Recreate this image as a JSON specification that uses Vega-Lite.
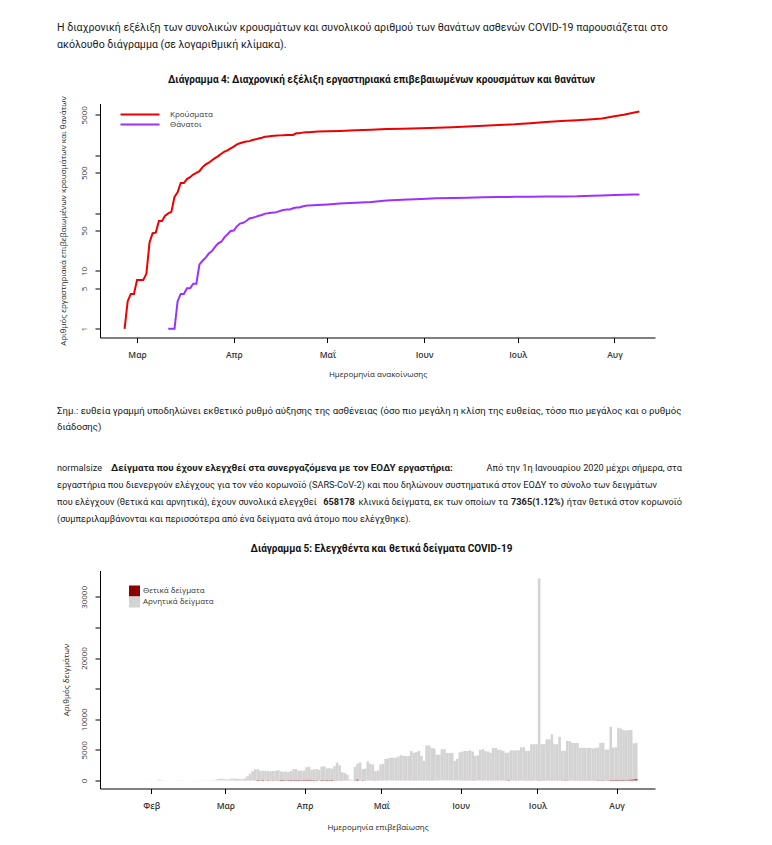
{
 "$schema": "https://vega.github.io/schema/vega-lite/v6.json",
 "background": "white",
 "padding": {"left": 57, "top": 19.5, "right": 5, "bottom": 0},
 "spacing": 0,
 "bounds": "flush",
 "resolve": {"scale": {"color": "independent"}, "legend": {"color": "independent"}},
 "config": {
  "view": {"stroke": null},
  "font": "Roboto",
  "axis": {"grid": false, "domainColor": "#000", "tickColor": "#000", "tickSize": 5, "labelColor": "#333", "titleColor": "#222", "labelFont": "Open Sans", "titleFont": "Open Sans", "titleFontWeight": "normal", "labelFontSize": 8, "titleFontSize": 8},
  "legend": {"labelFont": "Open Sans", "labelFontSize": 8, "labelColor": "#333"},
  "title": {"font": "Roboto", "fontSize": 10, "fontWeight": "bold", "color": "#111"},
  "text": {"font": "Roboto", "fontSize": 10, "color": "#1a1a1a"}
 },
 "vconcat": [
  {
   "width": 555, "height": 83.2,
   "data": {"values": [
    {"ln": 1, "t": "Η διαχρονική εξέλιξη των συνολικών κρουσμάτων και συνολικού αριθμού των θανάτων ασθενών COVID-19 παρουσιάζεται στο"},
    {"ln": 2, "t": "ακόλουθο διάγραμμα (σε λογαριθμική κλίμακα)."}
   ]},
   "mark": {"type": "text", "align": "left", "baseline": "middle", "fontSize": 10.6},
   "encoding": {
    "x": {"datum": 0, "type": "quantitative", "scale": {"domain": [6.88, 95.68], "nice": false}, "axis": null},
    "y": {"field": "ln", "type": "quantitative", "scale": {"domain": [0.5, 5.394], "reverse": true, "nice": false}, "axis": null},
    "text": {"field": "t"}
   }
  },
  {
   "width": 555, "height": 234,
   "title": {"text": "Διάγραμμα 4: Διαχρονική εξέλιξη εργαστηριακά επιβεβαιωμένων κρουσμάτων και θανάτων", "baseline": "middle", "offset": 6, "dx": 4},
   "data": {"values": [
    {"d": "2020-02-26", "c": 1}, {"d": "2020-02-27", "c": 3}, {"d": "2020-02-28", "c": 4}, {"d": "2020-02-29", "c": 4},
    {"d": "2020-03-01", "c": 7}, {"d": "2020-03-02", "c": 7}, {"d": "2020-03-03", "c": 7}, {"d": "2020-03-04", "c": 9},
    {"d": "2020-03-05", "c": 31}, {"d": "2020-03-06", "c": 45}, {"d": "2020-03-07", "c": 46}, {"d": "2020-03-08", "c": 73},
    {"d": "2020-03-09", "c": 73}, {"d": "2020-03-10", "c": 90}, {"d": "2020-03-11", "c": 99, "t": 1}, {"d": "2020-03-12", "c": 105, "t": 1},
    {"d": "2020-03-13", "c": 190, "t": 1}, {"d": "2020-03-14", "c": 228, "t": 3}, {"d": "2020-03-15", "c": 331, "t": 4}, {"d": "2020-03-16", "c": 331, "t": 4},
    {"d": "2020-03-17", "c": 387, "t": 5}, {"d": "2020-03-18", "c": 418, "t": 5}, {"d": "2020-03-19", "c": 464, "t": 6}, {"d": "2020-03-20", "c": 495, "t": 6},
    {"d": "2020-03-21", "c": 530, "t": 13}, {"d": "2020-03-22", "c": 624, "t": 15}, {"d": "2020-03-23", "c": 695, "t": 17}, {"d": "2020-03-24", "c": 743, "t": 20},
    {"d": "2020-03-25", "c": 821, "t": 22}, {"d": "2020-03-26", "c": 892, "t": 26}, {"d": "2020-03-27", "c": 966, "t": 30}, {"d": "2020-03-28", "c": 1061, "t": 32},
    {"d": "2020-03-29", "c": 1156, "t": 38}, {"d": "2020-03-30", "c": 1212, "t": 43}, {"d": "2020-03-31", "c": 1314, "t": 49}, {"d": "2020-04-01", "c": 1415, "t": 50},
    {"d": "2020-04-02", "c": 1544, "t": 59}, {"d": "2020-04-03", "c": 1613, "t": 66}, {"d": "2020-04-04", "c": 1673, "t": 68}, {"d": "2020-04-05", "c": 1735, "t": 73},
    {"d": "2020-04-06", "c": 1755, "t": 81}, {"d": "2020-04-07", "c": 1832, "t": 83}, {"d": "2020-04-08", "c": 1884, "t": 86}, {"d": "2020-04-09", "c": 1955, "t": 90},
    {"d": "2020-04-10", "c": 2011, "t": 93}, {"d": "2020-04-11", "c": 2081, "t": 98}, {"d": "2020-04-12", "c": 2114, "t": 99}, {"d": "2020-04-13", "c": 2145, "t": 101},
    {"d": "2020-04-14", "c": 2170, "t": 102}, {"d": "2020-04-15", "c": 2192, "t": 105}, {"d": "2020-04-16", "c": 2207, "t": 110}, {"d": "2020-04-17", "c": 2224, "t": 113},
    {"d": "2020-04-18", "c": 2235, "t": 116}, {"d": "2020-04-19", "c": 2235, "t": 116}, {"d": "2020-04-20", "c": 2245, "t": 121}, {"d": "2020-04-21", "c": 2401, "t": 125},
    {"d": "2020-04-22", "c": 2408, "t": 125}, {"d": "2020-04-23", "c": 2463, "t": 130}, {"d": "2020-04-24", "c": 2490, "t": 134}, {"d": "2020-04-25", "c": 2506, "t": 136},
    {"d": "2020-04-28", "c": 2566, "t": 138}, {"d": "2020-05-01", "c": 2591, "t": 141}, {"d": "2020-05-05", "c": 2632, "t": 146}, {"d": "2020-05-10", "c": 2710, "t": 151},
    {"d": "2020-05-15", "c": 2770, "t": 155}, {"d": "2020-05-20", "c": 2840, "t": 165}, {"d": "2020-05-25", "c": 2878, "t": 171}, {"d": "2020-05-31", "c": 2918, "t": 175},
    {"d": "2020-06-05", "c": 2980, "t": 180}, {"d": "2020-06-10", "c": 3060, "t": 183}, {"d": "2020-06-15", "c": 3130, "t": 185}, {"d": "2020-06-20", "c": 3230, "t": 188},
    {"d": "2020-06-25", "c": 3340, "t": 190}, {"d": "2020-06-30", "c": 3430, "t": 191}, {"d": "2020-07-05", "c": 3580, "t": 192}, {"d": "2020-07-10", "c": 3760, "t": 193},
    {"d": "2020-07-15", "c": 3920, "t": 194}, {"d": "2020-07-20", "c": 4030, "t": 195}, {"d": "2020-07-25", "c": 4200, "t": 199}, {"d": "2020-07-28", "c": 4340, "t": 202},
    {"d": "2020-08-01", "c": 4720, "t": 206}, {"d": "2020-08-04", "c": 5020, "t": 208}, {"d": "2020-08-07", "c": 5420, "t": 209}, {"d": "2020-08-09", "c": 5700, "t": 210}
   ]},
   "transform": [{"fold": ["c", "t"], "as": ["s", "v"]}],
   "mark": {"type": "line", "strokeWidth": 2},
   "encoding": {
    "x": {"field": "d", "type": "temporal", "title": "Ημερομηνία ανακοίνωσης",
     "scale": {"type": "utc", "domain": [{"year": 2020, "month": 2, "date": 18, "hours": 3, "utc": true}, {"year": 2020, "month": 8, "date": 14, "utc": true}]},
     "axis": {"values": [{"year": 2020, "month": 3, "date": 1, "utc": true}, {"year": 2020, "month": 4, "date": 1, "utc": true}, {"year": 2020, "month": 5, "date": 1, "utc": true}, {"year": 2020, "month": 6, "date": 1, "utc": true}, {"year": 2020, "month": 7, "date": 1, "utc": true}, {"year": 2020, "month": 8, "date": 1, "utc": true}],
      "labelExpr": "['Ιαν','Φεβ','Μαρ','Απρ','Μαΐ','Ιουν','Ιουλ','Αυγ','Σεπ'][utcmonth(datum.value)]", "labelFontWeight": 600, "labelFontSize": 8.5, "labelPadding": 8, "titlePadding": 11}},
    "y": {"field": "v", "type": "quantitative", "title": "Αριθμός εργαστηριακά επιβεβαιωμένων κρουσμάτων και θανάτων",
     "scale": {"type": "log", "domain": [0.707, 7850], "nice": false},
     "axis": {"values": [1, 5, 10, 50, 100, 500, 1000, 5000], "format": "d", "labelExpr": "datum.value == 100 || datum.value == 1000 ? '' : datum.label", "labelAngle": -90, "labelAlign": "center", "labelBaseline": "bottom", "labelPadding": 7, "labelOverlap": false, "titlePadding": 12.5}},
    "color": {"field": "s", "type": "nominal", "scale": {"domain": ["c", "t"], "range": ["#ee0000", "#9b30ff"]},
     "legend": {"title": null, "orient": "none", "legendX": 34, "legendY": 5, "symbolType": "M-3.9,0H3.9", "symbolSize": 100, "symbolStrokeWidth": 2, "rowPadding": 0, "labelOffset": 24, "padding": 0, "labelExpr": "datum.value == 'c' ? 'Κρούσματα' : 'Θάνατοι'"}}
   }
  },
  {
   "width": 555, "height": 110,
   "data": {"values": [
    {"ln": 1, "t": "Σημ.: ευθεία γραμμή υποδηλώνει εκθετικό ρυθμό αύξησης της ασθένειας (όσο πιο μεγάλη η κλίση της ευθείας, τόσο πιο μεγάλος και ο ρυθμός"},
    {"ln": 2, "t": "διάδοσης)"}
   ]},
   "mark": {"type": "text", "align": "left", "baseline": "middle", "fontSize": 9.65},
   "encoding": {
    "x": {"datum": 0, "type": "quantitative", "scale": {"domain": [6.88, 95.68], "nice": false}, "axis": null},
    "y": {"field": "ln", "type": "quantitative", "scale": {"domain": [-3.581, 3.294], "reverse": true, "nice": false}, "axis": null},
    "text": {"field": "t"}
   }
  },
  {
   "width": 555, "height": 122.6,
   "encoding": {
    "y": {"field": "ln", "type": "quantitative", "scale": {"domain": [-0.194, 7.018], "reverse": true, "nice": false}, "axis": null},
    "text": {"field": "t"}
   },
   "layer": [
    {
     "data": {"values": [
      {"ln": 1, "t": "normalsize"},
      {"ln": 2, "t": "εργαστήρια που διενεργούν ελέγχους για τον νέο κορωνοϊό (SARS-CoV-2) και που δηλώνουν συστηματικά στον ΕΟΔΥ το σύνολο των δειγμάτων"},
      {"ln": 3, "t": "που ελέγχουν (θετικά και αρνητικά), έχουν συνολικά ελεγχθεί"},
      {"ln": 4, "t": "(συμπεριλαμβάνονται και περισσότερα από ένα δείγματα ανά άτομο που ελέγχθηκε)."}
     ]},
     "mark": {"type": "text", "align": "left", "baseline": "middle", "fontSize": 9.2},
     "encoding": {"x": {"datum": 0, "type": "quantitative", "scale": {"domain": [6.88, 95.68], "nice": false}, "axis": null}}
    },
    {
     "data": {"values": [
      {"ln": 1, "t": "Από την 1η Ιανουαρίου 2020 μέχρι σήμερα, στα"},
      {"ln": 3, "t": "ήταν θετικά στον κορωνοϊό"}
     ]},
     "mark": {"type": "text", "align": "right", "baseline": "middle", "fontSize": 9.2},
     "encoding": {"x": {"datum": 100, "type": "quantitative"}}
    },
    {
     "data": {"values": [{"ln": 1, "t": "Δείγματα που έχουν ελεγχθεί στα συνεργαζόμενα με τον ΕΟΔΥ εργαστήρια:"}]},
     "mark": {"type": "text", "align": "left", "baseline": "middle", "fontWeight": "bold", "fontSize": 9.8},
     "encoding": {"x": {"datum": 8.64, "type": "quantitative"}}
    },
    {
     "data": {"values": [{"ln": 3, "t": "658178"}]},
     "mark": {"type": "text", "align": "left", "baseline": "middle", "fontWeight": "bold", "fontSize": 9.2},
     "encoding": {"x": {"datum": 42.59, "type": "quantitative"}}
    },
    {
     "data": {"values": [{"ln": 3, "t": "κλινικά δείγματα, εκ των οποίων τα"}]},
     "mark": {"type": "text", "align": "left", "baseline": "middle", "fontSize": 9.2},
     "encoding": {"x": {"datum": 48.22, "type": "quantitative"}}
    },
    {
     "data": {"values": [{"ln": 3, "t": "7365(1.12%)"}]},
     "mark": {"type": "text", "align": "left", "baseline": "middle", "fontWeight": "bold", "fontSize": 9.2},
     "encoding": {"x": {"datum": 72.65, "type": "quantitative"}}
    }
   ]
  },
  {
   "width": 555, "height": 218,
   "title": {"text": "Διάγραμμα 5: Ελεγχθέντα και θετικά δείγματα COVID-19", "baseline": "middle", "offset": 11.3, "dx": 4},
   "data": {"values": [
    {"d": "2020-01-27", "n": 5, "p": 0}, {"d": "2020-01-28", "n": 10, "p": 0}, {"d": "2020-01-29", "n": 8, "p": 0}, {"d": "2020-01-30", "n": 12, "p": 0}, {"d": "2020-01-31", "n": 15, "p": 0},
    {"d": "2020-02-01", "n": 10, "p": 0}, {"d": "2020-02-02", "n": 5, "p": 0}, {"d": "2020-02-03", "n": 120, "p": 0}, {"d": "2020-02-04", "n": 80, "p": 0}, {"d": "2020-02-05", "n": 20, "p": 0},
    {"d": "2020-02-06", "n": 15, "p": 0}, {"d": "2020-02-07", "n": 10, "p": 0}, {"d": "2020-02-08", "n": 5, "p": 0}, {"d": "2020-02-09", "n": 5, "p": 0}, {"d": "2020-02-10", "n": 20, "p": 0},
    {"d": "2020-02-11", "n": 25, "p": 0}, {"d": "2020-02-12", "n": 15, "p": 0}, {"d": "2020-02-13", "n": 20, "p": 0}, {"d": "2020-02-14", "n": 15, "p": 0}, {"d": "2020-02-15", "n": 5, "p": 0},
    {"d": "2020-02-16", "n": 5, "p": 0}, {"d": "2020-02-17", "n": 20, "p": 0}, {"d": "2020-02-18", "n": 25, "p": 0}, {"d": "2020-02-19", "n": 20, "p": 0}, {"d": "2020-02-20", "n": 25, "p": 0},
    {"d": "2020-02-21", "n": 30, "p": 0}, {"d": "2020-02-22", "n": 15, "p": 0}, {"d": "2020-02-23", "n": 10, "p": 0}, {"d": "2020-02-24", "n": 40, "p": 0}, {"d": "2020-02-25", "n": 60, "p": 0},
    {"d": "2020-02-26", "n": 150, "p": 1}, {"d": "2020-02-27", "n": 250, "p": 2}, {"d": "2020-02-28", "n": 280, "p": 1}, {"d": "2020-02-29", "n": 200, "p": 0},
    {"d": "2020-03-01", "n": 150, "p": 0}, {"d": "2020-03-02", "n": 250, "p": 0}, {"d": "2020-03-03", "n": 280, "p": 0}, {"d": "2020-03-04", "n": 300, "p": 2}, {"d": "2020-03-05", "n": 250, "p": 22},
    {"d": "2020-03-06", "n": 200, "p": 14}, {"d": "2020-03-07", "n": 250, "p": 1}, {"d": "2020-03-08", "n": 300, "p": 27}, {"d": "2020-03-09", "n": 700, "p": 0}, {"d": "2020-03-10", "n": 1100, "p": 16},
    {"d": "2020-03-11", "n": 1500, "p": 10}, {"d": "2020-03-12", "n": 1800, "p": 18}, {"d": "2020-03-13", "n": 1750, "p": 73}, {"d": "2020-03-14", "n": 1550, "p": 38}, {"d": "2020-03-15", "n": 1500, "p": 103},
    {"d": "2020-03-16", "n": 1550, "p": 21}, {"d": "2020-03-17", "n": 1500, "p": 56}, {"d": "2020-03-18", "n": 1450, "p": 31}, {"d": "2020-03-19", "n": 1500, "p": 46}, {"d": "2020-03-20", "n": 1550, "p": 31},
    {"d": "2020-03-21", "n": 1650, "p": 35}, {"d": "2020-03-22", "n": 1400, "p": 94}, {"d": "2020-03-23", "n": 1350, "p": 71}, {"d": "2020-03-24", "n": 1400, "p": 48}, {"d": "2020-03-25", "n": 1300, "p": 78},
    {"d": "2020-03-26", "n": 1450, "p": 71}, {"d": "2020-03-27", "n": 1800, "p": 74}, {"d": "2020-03-28", "n": 1750, "p": 95}, {"d": "2020-03-29", "n": 1500, "p": 95}, {"d": "2020-03-30", "n": 1550, "p": 56},
    {"d": "2020-03-31", "n": 1500, "p": 102}, {"d": "2020-04-01", "n": 2050, "p": 101}, {"d": "2020-04-02", "n": 2100, "p": 129}, {"d": "2020-04-03", "n": 1700, "p": 69}, {"d": "2020-04-04", "n": 1750, "p": 60},
    {"d": "2020-04-05", "n": 1800, "p": 62}, {"d": "2020-04-06", "n": 1700, "p": 20}, {"d": "2020-04-07", "n": 2200, "p": 77}, {"d": "2020-04-08", "n": 2250, "p": 52}, {"d": "2020-04-09", "n": 1900, "p": 71},
    {"d": "2020-04-10", "n": 1950, "p": 56}, {"d": "2020-04-11", "n": 1850, "p": 70}, {"d": "2020-04-12", "n": 2300, "p": 33}, {"d": "2020-04-13", "n": 2900, "p": 31}, {"d": "2020-04-14", "n": 2450, "p": 25},
    {"d": "2020-04-15", "n": 1300, "p": 22}, {"d": "2020-04-16", "n": 1200, "p": 15}, {"d": "2020-04-17", "n": 900, "p": 17}, {"d": "2020-04-18", "n": 150, "p": 11}, {"d": "2020-04-19", "n": 100, "p": 0},
    {"d": "2020-04-20", "n": 2200, "p": 10}, {"d": "2020-04-21", "n": 2600, "p": 156}, {"d": "2020-04-22", "n": 2950, "p": 7}, {"d": "2020-04-23", "n": 1800, "p": 55}, {"d": "2020-04-24", "n": 1900, "p": 27},
    {"d": "2020-04-25", "n": 3100, "p": 16}, {"d": "2020-04-26", "n": 2700, "p": 11}, {"d": "2020-04-27", "n": 2600, "p": 17}, {"d": "2020-04-28", "n": 1500, "p": 32}, {"d": "2020-04-29", "n": 1600, "p": 15},
    {"d": "2020-04-30", "n": 2600, "p": 15}, {"d": "2020-05-01", "n": 2700, "p": 10}, {"d": "2020-05-02", "n": 3500, "p": 9}, {"d": "2020-05-03", "n": 3600, "p": 9}, {"d": "2020-05-04", "n": 3700, "p": 2},
    {"d": "2020-05-05", "n": 3700, "p": 10}, {"d": "2020-05-06", "n": 3700, "p": 13}, {"d": "2020-05-07", "n": 3900, "p": 10}, {"d": "2020-05-08", "n": 4100, "p": 17}, {"d": "2020-05-09", "n": 4000, "p": 11},
    {"d": "2020-05-10", "n": 3950, "p": 14}, {"d": "2020-05-11", "n": 4000, "p": 6}, {"d": "2020-05-12", "n": 4800, "p": 16}, {"d": "2020-05-13", "n": 4500, "p": 16}, {"d": "2020-05-14", "n": 4600, "p": 16},
    {"d": "2020-05-15", "n": 4800, "p": 10}, {"d": "2020-05-16", "n": 4000, "p": 10}, {"d": "2020-05-17", "n": 3200, "p": 9}, {"d": "2020-05-18", "n": 5700, "p": 6}, {"d": "2020-05-19", "n": 5700, "p": 15},
    {"d": "2020-05-20", "n": 5300, "p": 21}, {"d": "2020-05-21", "n": 5200, "p": 13}, {"d": "2020-05-22", "n": 4200, "p": 3}, {"d": "2020-05-23", "n": 4200, "p": 8}, {"d": "2020-05-24", "n": 5100, "p": 3},
    {"d": "2020-05-25", "n": 5100, "p": 2}, {"d": "2020-05-26", "n": 4500, "p": 5}, {"d": "2020-05-27", "n": 4500, "p": 7}, {"d": "2020-05-28", "n": 4500, "p": 10}, {"d": "2020-05-29", "n": 3200, "p": 8},
    {"d": "2020-05-30", "n": 3500, "p": 1}, {"d": "2020-05-31", "n": 4600, "p": 12}, {"d": "2020-06-01", "n": 4700, "p": 20}, {"d": "2020-06-02", "n": 4800, "p": 15}, {"d": "2020-06-03", "n": 4800, "p": 15},
    {"d": "2020-06-04", "n": 4900, "p": 10}, {"d": "2020-06-05", "n": 4700, "p": 25}, {"d": "2020-06-06", "n": 4000, "p": 17}, {"d": "2020-06-07", "n": 4100, "p": 3}, {"d": "2020-06-08", "n": 5000, "p": 11},
    {"d": "2020-06-09", "n": 5100, "p": 20}, {"d": "2020-06-10", "n": 4800, "p": 6}, {"d": "2020-06-11", "n": 4700, "p": 24}, {"d": "2020-06-12", "n": 4500, "p": 15}, {"d": "2020-06-13", "n": 5300, "p": 17},
    {"d": "2020-06-14", "n": 5300, "p": 11}, {"d": "2020-06-15", "n": 5000, "p": 19}, {"d": "2020-06-16", "n": 5000, "p": 9}, {"d": "2020-06-17", "n": 4800, "p": 12}, {"d": "2020-06-18", "n": 4500, "p": 21},
    {"d": "2020-06-19", "n": 4500, "p": 55}, {"d": "2020-06-20", "n": 4900, "p": 10}, {"d": "2020-06-21", "n": 4900, "p": 14}, {"d": "2020-06-22", "n": 4900, "p": 15}, {"d": "2020-06-23", "n": 4900, "p": 20},
    {"d": "2020-06-24", "n": 5400, "p": 10}, {"d": "2020-06-25", "n": 5400, "p": 13}, {"d": "2020-06-26", "n": 4800, "p": 21}, {"d": "2020-06-27", "n": 4800, "p": 21}, {"d": "2020-06-28", "n": 5900, "p": 33},
    {"d": "2020-06-29", "n": 5900, "p": 14}, {"d": "2020-06-30", "n": 5900, "p": 19}, {"d": "2020-07-01", "n": 33000, "p": 34}, {"d": "2020-07-02", "n": 5900, "p": 28}, {"d": "2020-07-03", "n": 5900, "p": 24},
    {"d": "2020-07-04", "n": 6700, "p": 20}, {"d": "2020-07-05", "n": 6700, "p": 15}, {"d": "2020-07-06", "n": 7500, "p": 30}, {"d": "2020-07-07", "n": 5900, "p": 15}, {"d": "2020-07-08", "n": 5900, "p": 26},
    {"d": "2020-07-09", "n": 7100, "p": 19}, {"d": "2020-07-10", "n": 4800, "p": 30}, {"d": "2020-07-11", "n": 4800, "p": 45}, {"d": "2020-07-12", "n": 6400, "p": 41}, {"d": "2020-07-13", "n": 6400, "p": 12},
    {"d": "2020-07-14", "n": 6100, "p": 16}, {"d": "2020-07-15", "n": 6100, "p": 28}, {"d": "2020-07-16", "n": 6100, "p": 20}, {"d": "2020-07-17", "n": 5300, "p": 24}, {"d": "2020-07-18", "n": 5300, "p": 27},
    {"d": "2020-07-19", "n": 5300, "p": 29}, {"d": "2020-07-20", "n": 5300, "p": 25}, {"d": "2020-07-21", "n": 5300, "p": 23}, {"d": "2020-07-22", "n": 5200, "p": 20}, {"d": "2020-07-23", "n": 5300, "p": 33},
    {"d": "2020-07-24", "n": 5300, "p": 50}, {"d": "2020-07-25", "n": 6100, "p": 39}, {"d": "2020-07-26", "n": 6100, "p": 50}, {"d": "2020-07-27", "n": 5000, "p": 28}, {"d": "2020-07-28", "n": 5000, "p": 33},
    {"d": "2020-07-29", "n": 8700, "p": 75}, {"d": "2020-07-30", "n": 5300, "p": 78}, {"d": "2020-07-31", "n": 5300, "p": 110}, {"d": "2020-08-01", "n": 8500, "p": 110}, {"d": "2020-08-02", "n": 8400, "p": 75},
    {"d": "2020-08-03", "n": 8100, "p": 121}, {"d": "2020-08-04", "n": 8100, "p": 57}, {"d": "2020-08-05", "n": 8100, "p": 124}, {"d": "2020-08-06", "n": 8100, "p": 153}, {"d": "2020-08-07", "n": 5900, "p": 167},
    {"d": "2020-08-08", "n": 5900, "p": 203}
   ]},
   "transform": [{"fold": ["p", "n"], "as": ["k", "v"]}],
   "mark": {"type": "bar", "binSpacing": 0},
   "encoding": {
    "x": {"field": "d", "type": "temporal", "timeUnit": "utcyearmonthdate", "title": "Ημερομηνία επιβεβαίωσης",
     "scale": {"type": "utc", "domain": [{"year": 2020, "month": 1, "date": 12, "utc": true}, {"year": 2020, "month": 8, "date": 16, "utc": true}]},
     "axis": {"values": [{"year": 2020, "month": 2, "date": 1, "utc": true}, {"year": 2020, "month": 3, "date": 1, "utc": true}, {"year": 2020, "month": 4, "date": 1, "utc": true}, {"year": 2020, "month": 5, "date": 1, "utc": true}, {"year": 2020, "month": 6, "date": 1, "utc": true}, {"year": 2020, "month": 7, "date": 1, "utc": true}, {"year": 2020, "month": 8, "date": 1, "utc": true}],
      "labelExpr": "['Ιαν','Φεβ','Μαρ','Απρ','Μαΐ','Ιουν','Ιουλ','Αυγ','Σεπ'][utcmonth(datum.value)]", "labelFontWeight": 600, "labelFontSize": 8.5, "labelPadding": 8, "titlePadding": 13}},
    "y": {"field": "v", "type": "quantitative", "stack": "zero", "title": "Αριθμός δειγμάτων",
     "scale": {"domain": [-1320, 34320], "nice": false},
     "axis": {"values": [0, 5000, 10000, 15000, 20000, 25000, 30000], "format": "d", "labelExpr": "datum.value == 15000 || datum.value == 25000 ? '' : datum.label", "labelAngle": -90, "labelAlign": "center", "labelBaseline": "bottom", "labelPadding": 7, "labelOverlap": false, "titlePadding": 10}},
    "color": {"field": "k", "type": "nominal", "scale": {"domain": ["p", "n"], "range": ["#8b0000", "#d3d3d3"]},
     "legend": {"title": null, "orient": "none", "legendX": 29, "legendY": 15, "symbolType": "square", "symbolSize": 121, "symbolStrokeWidth": 0, "rowPadding": 0, "labelOffset": 3, "padding": 0, "labelExpr": "datum.value == 'p' ? 'Θετικά δείγματα' : 'Αρνητικά δείγματα'"}},
    "order": {"field": "k", "sort": "descending"}
   }
  }
 ]
}
